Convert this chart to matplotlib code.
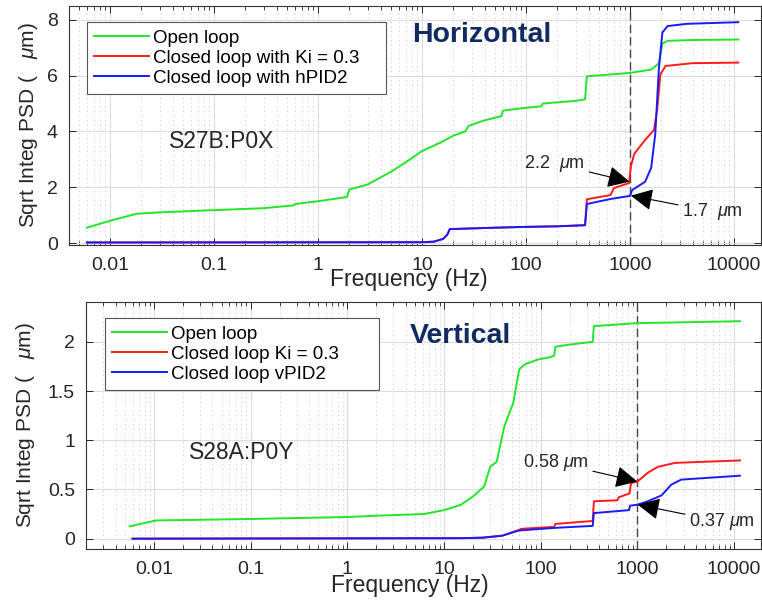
import matplotlib
matplotlib.use('Agg')
import matplotlib.pyplot as plt
from matplotlib.ticker import LogLocator, FixedLocator, NullFormatter

plt.rcParams['font.family'] = ['Liberation Sans', 'DejaVu Sans']
plt.rcParams['mathtext.fontset'] = 'custom'
plt.rcParams['mathtext.rm'] = 'Liberation Sans'
plt.rcParams['mathtext.it'] = 'Liberation Sans:italic'

# ---------------- data: Horizontal (S27B:P0X) ----------------
h_open_f = [0.006, 0.01, 0.018, 0.03, 0.1, 0.3, 0.58, 0.6, 1.0, 1.9, 2.0, 3.0, 5.0, 7.0, 10,
            15, 20, 26, 28, 40, 58, 60, 100, 140, 145, 300, 370, 385, 1000, 1600, 1900,
            2050, 2300, 4000, 11000]
h_open_v = [0.55, 0.8, 1.05, 1.1, 1.18, 1.25, 1.35, 1.4, 1.5, 1.65, 1.92, 2.1, 2.55, 2.9, 3.3,
            3.6, 3.85, 4.0, 4.2, 4.4, 4.55, 4.75, 4.85, 4.9, 5.0, 5.1, 5.15, 5.98, 6.1, 6.22, 6.45,
            7.15, 7.25, 7.28, 7.3]
h_ki_f = [0.006, 10, 13, 16, 17.5, 18.5, 50, 100, 200, 370, 385, 650, 700, 980, 1020, 1100,
          1400, 1700, 1830, 1960, 2200, 4000, 11000]
h_ki_v = [0.02, 0.03, 0.05, 0.15, 0.3, 0.5, 0.55, 0.58, 0.6, 0.64, 1.57, 1.72, 1.97, 2.15,
          2.75, 3.2, 3.7, 4.05, 4.8, 6.05, 6.35, 6.45, 6.47]
h_pid_f = [0.006, 10, 13, 16, 17.5, 18.5, 50, 100, 200, 370, 385, 650, 1000, 1050, 1400,
           1600, 1750, 1900, 2050, 2300, 3500, 11000]
h_pid_v = [0.02, 0.03, 0.05, 0.15, 0.3, 0.5, 0.55, 0.58, 0.6, 0.64, 1.40, 1.58, 1.69, 1.9,
           2.2, 2.7, 3.9, 6.3, 7.55, 7.78, 7.86, 7.92]

# ---------------- data: Vertical (S28A:P0Y) ----------------
v_open_f = [0.0056, 0.0105, 0.1, 1.0, 2.2, 6.2, 10, 15, 20, 26, 30, 35, 42, 52, 56, 60, 68,
            93, 120, 138, 142, 190, 345, 355, 1000, 11500]
v_open_v = [0.125, 0.185, 0.2, 0.22, 0.235, 0.25, 0.29, 0.345, 0.43, 0.53, 0.73, 0.78, 1.14,
            1.38, 1.56, 1.72, 1.77, 1.82, 1.84, 1.86, 1.95, 1.97, 2.0, 2.16, 2.19, 2.21]
v_ki_f = [0.006, 15, 25, 40, 58, 63, 138, 142, 345, 355, 620, 640, 830, 860, 1000, 1280,
          1630, 2450, 11500]
v_ki_v = [0.0, 0.005, 0.01, 0.03, 0.085, 0.1, 0.12, 0.15, 0.18, 0.38, 0.39, 0.42, 0.46,
          0.565, 0.58, 0.67, 0.73, 0.77, 0.795]
v_pid_f = [0.006, 15, 25, 40, 58, 63, 142, 345, 355, 820, 840, 1000, 1280, 1780, 2250, 2840,
           11500]
v_pid_v = [0.0, 0.005, 0.01, 0.03, 0.08, 0.085, 0.11, 0.13, 0.26, 0.29, 0.335, 0.345, 0.38,
           0.44, 0.55, 0.6, 0.64]

xtick_vals = [0.01, 0.1, 1, 10, 100, 1000, 10000]
xtick_labels = ['0.01', '0.1', '1', '10', '100', '1000', '10000']
h_yticks = [0, 2, 4, 6, 8]
h_ylabels = ['0', '2', '4', '6', '8']
v_yticks = [0, 0.5, 1, 1.5, 2]
v_ylabels = ['0', '0.5', '1', '1.5', '2']

h_names = ['Open loop', 'Closed loop with Ki = 0.3', 'Closed loop with hPID2']
v_names = ['Open loop', 'Closed loop Ki = 0.3', 'Closed loop vPID2']
colors = ['#22e62a', '#ff1a1a', '#1a1aff']

W, H = 762, 603
fig = plt.figure(figsize=(W / 100, H / 100), dpi=100)
ax1 = fig.add_axes([69 / W, 1 - 245 / H, 692 / W, 239 / H])
ax2 = fig.add_axes([86 / W, 1 - 549 / H, 675 / W, 247 / H])

TXT = '#262626'


def style(ax, xlim, ylim, yt, yl):
    ax.set_xscale('log')
    ax.set_xlim(*xlim)
    ax.set_ylim(*ylim)
    ax.xaxis.set_major_locator(FixedLocator(xtick_vals))
    ax.set_xticklabels(xtick_labels)
    ax.xaxis.set_minor_locator(LogLocator(base=10, subs=range(2, 10), numticks=30))
    ax.xaxis.set_minor_formatter(NullFormatter())
    ax.set_yticks(yt)
    ax.set_yticklabels(yl)
    ax.tick_params(which='both', direction='in', top=True, right=True, colors=TXT,
                   labelsize=14, labelcolor=TXT)
    ax.tick_params(which='major', length=5, width=0.7)
    ax.tick_params(which='minor', length=3, width=0.6)
    ax.tick_params(axis='x', pad=9)
    ax.tick_params(axis='y', pad=8)
    ax.grid(True, which='major', color='#dcdcdc', lw=0.8, ls='-')
    ax.grid(True, which='minor', axis='x', color='#cccccc', lw=0.8, ls=(0, (1, 3)))
    for s in ax.spines.values():
        s.set_color('#333333')
        s.set_linewidth(0.8)
    ax.set_axisbelow(True)


style(ax1, (0.00403, 18200), (-0.07, 8.5), h_yticks, h_ylabels)
style(ax2, (0.00198, 19000), (-0.105, 2.405), v_yticks, v_ylabels)

for ax, data, names in [
    (ax1, [(h_open_f, h_open_v), (h_ki_f, h_ki_v), (h_pid_f, h_pid_v)], h_names),
    (ax2, [(v_open_f, v_open_v), (v_ki_f, v_ki_v), (v_pid_f, v_pid_v)], v_names),
]:
    ax.axvline(1000, color='#444444', lw=1.0, ls=(0, (6, 3)), zorder=1.5)
    for (f, v), c, n in zip(data, colors, names):
        ax.plot(f, v, color=c, lw=1.4, label=n, zorder=3)
    ax.set_xlabel('Frequency (Hz)', fontsize=16.5, color=TXT)
    ax.set_ylabel('Sqrt Integ PSD (   $\\mu$m)', fontsize=15, color=TXT)

leg_kw = dict(loc='upper left', fontsize=13.5, frameon=True, fancybox=False,
              edgecolor='#555555', framealpha=1, borderaxespad=0, handlelength=2.9,
              handletextpad=0.2, labelspacing=0.15, borderpad=0.4, mode='expand')
l1 = ax1.legend(bbox_to_anchor=(0.026, 0.5, 0.432, 0.433), **leg_kw)
l2 = ax2.legend(bbox_to_anchor=(0.028, 0.5, 0.406, 0.435), **leg_kw)
for l in (l1, l2):
    l.get_frame().set_linewidth(0.8)

ax1.xaxis.set_label_coords(0.491, -0.095)
ax2.xaxis.set_label_coords(0.48, -0.1)
ax1.yaxis.set_label_coords(-0.042, 0.5)
ax2.yaxis.set_label_coords(-0.072, 0.5)

NAVY = '#112a60'
ax1.text(0.597, 0.88, 'Horizontal', transform=ax1.transAxes, ha='center', va='center',
         fontsize=20.5, fontweight='bold', color=NAVY)
ax2.text(0.554, 0.862, 'Vertical', transform=ax2.transAxes, ha='center', va='center',
         fontsize=20.5, fontweight='bold', color=NAVY)
ax1.text(0.221, 0.435, 'S27B:P0X', transform=ax1.transAxes, ha='center', va='center',
         fontsize=16.5, color=TXT)
ax2.text(0.231, 0.39, 'S28A:P0Y', transform=ax2.transAxes, ha='center', va='center',
         fontsize=16.5, color=TXT)

arrow = dict(arrowstyle='-|>,head_length=0.9,head_width=0.45', lw=0.8, color='k',
             shrinkA=1, shrinkB=0, mutation_scale=15)
ax1.annotate('2.2  $\\mu$m', xy=(990, 2.2), xytext=(-32, 13), textcoords='offset points',
             ha='right', va='center', fontsize=13, color=TXT, arrowprops=arrow)
ax1.annotate('1.7  $\\mu$m', xy=(1020, 1.7), xytext=(37, -11.5), textcoords='offset points',
             ha='left', va='center', fontsize=13, color=TXT, arrowprops=arrow)
ax2.annotate('0.58 $\\mu$m', xy=(1000, 0.58), xytext=(-35, 13.7), textcoords='offset points',
             ha='right', va='center', fontsize=13, color=TXT, arrowprops=arrow)
ax2.annotate('0.37 $\\mu$m', xy=(1010, 0.345), xytext=(37, -12.2), textcoords='offset points',
             ha='left', va='center', fontsize=13, color=TXT, arrowprops=arrow)

fig.savefig('out.png', dpi=100)
